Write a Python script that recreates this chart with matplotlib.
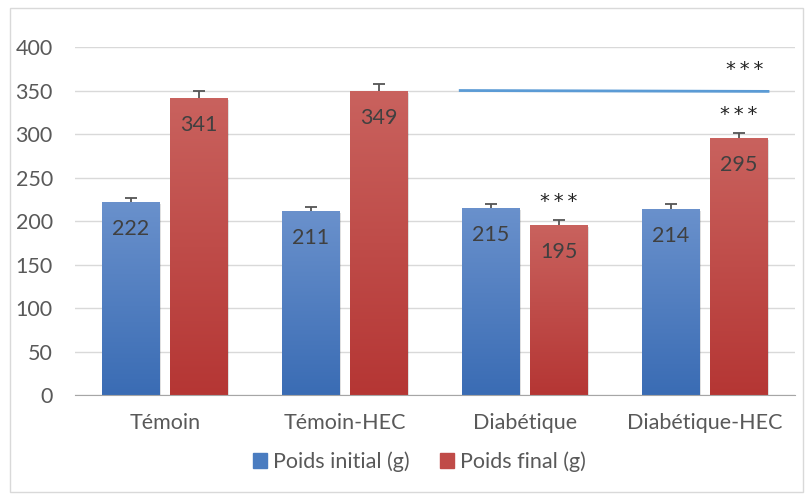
import numpy as np
import matplotlib.pyplot as plt
from matplotlib.patches import Rectangle
from matplotlib.colors import LinearSegmentedColormap

categories = ["Témoin", "Témoin-HEC", "Diabétique", "Diabétique-HEC"]
poids_initial = [222, 211, 215, 214]
poids_final = [341, 349, 195, 295]
err_initial = [5, 5, 5, 6]
err_final = [8, 8, 6, 6]
star_final = ["", "", "***", "***"]
yticks = [0, 50, 100, 150, 200, 250, 300, 350, 400]
line_y = 350
line_stars = "***"

plt.rcParams['font.family'] = ['Lato', 'DejaVu Sans']

fig = plt.figure(figsize=(8.05, 4.95), dpi=100)
ax = fig.add_axes([0.0932, 0.202, 0.8944, 0.703])

blue_cmap = LinearSegmentedColormap.from_list("b", ["#3a6cb4", "#6a91cc"])
red_cmap = LinearSegmentedColormap.from_list("r", ["#b53634", "#c9625e"])

x = np.arange(len(categories))
w = 0.322
off = 0.189


def grad_bars(xs, vals, cmap):
    bars = ax.bar(xs, vals, w, color="none", edgecolor="none", zorder=3)
    grad = np.linspace(0, 1, 256).reshape(-1, 1)
    for b in bars:
        x0, y0 = b.get_x(), b.get_y()
        bw, bh = b.get_width(), b.get_height()
        # soft shadow
        ax.add_patch(Rectangle((x0 + 0.008, y0 - 2), bw, bh, color="#000000",
                               alpha=0.12, zorder=2, lw=0))
        im = ax.imshow(grad, cmap=cmap, origin="lower", aspect="auto",
                       extent=[x0, x0 + bw, y0, y0 + bh], zorder=3)
        im.set_clip_path(b)
    return bars


def spaced(s):
    return "\u2009".join(s)


grad_bars(x - off, poids_initial, blue_cmap)
grad_bars(x + off, poids_final, red_cmap)

# error bars: upper whisker with a single cap
for xs, vals, errs in [(x - off, poids_initial, err_initial), (x + off, poids_final, err_final)]:
    tops = np.array(vals) + np.array(errs)
    ax.vlines(xs, vals, tops, color="#555555", lw=1.3, zorder=4)
    ax.hlines(tops, xs - 0.035, xs + 0.035, color="#555555", lw=1.3, zorder=4)

for xi, v in zip(x - off, poids_initial):
    ax.text(xi, v - 31, str(v), ha="center", va="center", fontsize=15.5, color="#404040", zorder=5)
for xi, v in zip(x + off, poids_final):
    ax.text(xi, v - 31, str(v), ha="center", va="center", fontsize=15.5, color="#404040", zorder=5)
for xi, v, e, s in zip(x + off, poids_final, err_final, star_final):
    if s:
        ax.text(xi, v + e + 22, spaced(s), ha="center", va="center", fontsize=14,
                family="DejaVu Sans", color="#222222", zorder=5)

ax.plot([1.64, 3.35], [line_y, line_y - 1], color="#5b9bd5", lw=2, zorder=4)
ax.text(3.22, line_y + 24, spaced(line_stars), ha="center", va="center", fontsize=14,
        family="DejaVu Sans", color="#222222")

ax.set_xlim(-0.5, 3.5)
ax.set_ylim(0, 400)
ax.set_yticks(yticks)
ax.set_xticks(x)
ax.set_xticklabels(categories)
ax.yaxis.grid(True, color="#d9d9d9", lw=1)
ax.set_axisbelow(True)
for s in ["top", "right", "left"]:
    ax.spines[s].set_visible(False)
ax.spines["bottom"].set_color("#a6a6a6")
ax.spines["bottom"].set_zorder(6)
ax.tick_params(axis="both", length=0, labelsize=15.5, colors="#595959")
ax.tick_params(axis="y", pad=16)
ax.tick_params(axis="x", pad=13)

h1 = Rectangle((0, 0), 1, 1, color="#4a7cc0")
h2 = Rectangle((0, 0), 1, 1, color="#c04b48")
fig.legend([h1, h2], ["Poids initial (g)", "Poids final (g)"], loc="center",
           bbox_to_anchor=(0.521, 0.067), ncol=2, frameon=False, fontsize=15.5,
           handlelength=0.65, handleheight=0.65, handletextpad=0.3, columnspacing=1.4,
           labelcolor="#595959")

fig.patches.append(Rectangle((10 / 805, 3 / 495), 793 / 805, 484 / 495, transform=fig.transFigure,
                             fill=False, edgecolor="#d9d9d9", lw=1))

fig.savefig("out.png", dpi=100)
